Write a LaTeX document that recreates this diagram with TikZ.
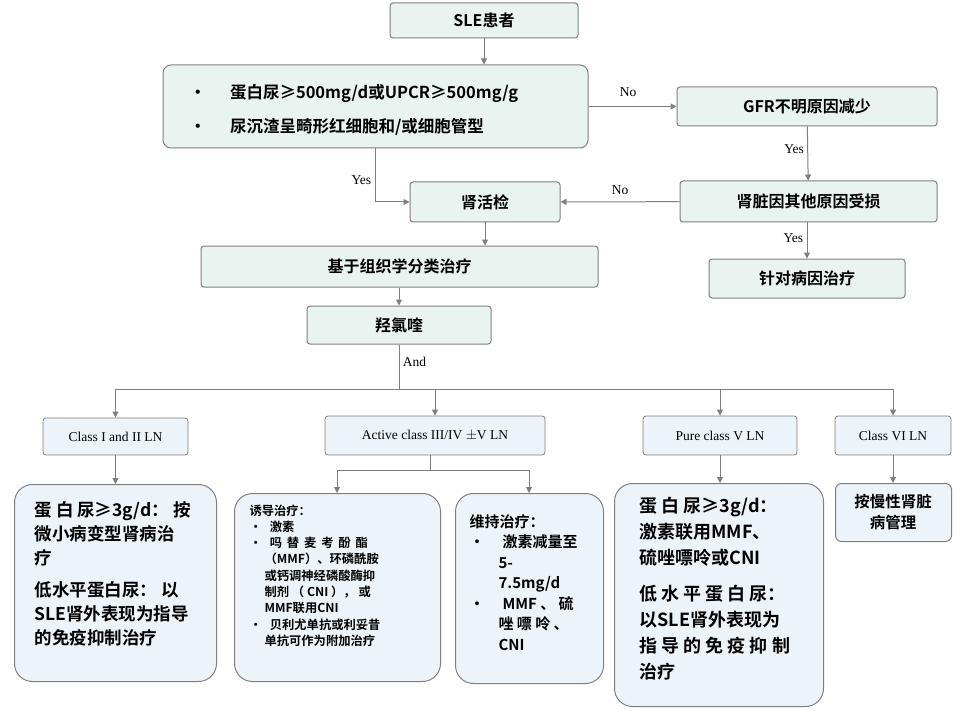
\documentclass[tikz,border=0pt]{standalone}
\usepackage{fontspec}
\setmainfont{Noto Sans CJK SC}[BoldFont={Noto Sans CJK SC Bold}]
\newfontfamily\serifen{Liberation Serif}
\usetikzlibrary{arrows.meta}
\definecolor{topfill}{HTML}{E9F3EF}
\definecolor{botfill}{HTML}{EDF4F9}
\definecolor{edge}{HTML}{7F7F7F}
\tikzset{
 tb/.style={draw=edge, line width=1pt, fill=topfill, rounded corners=3pt, font=\bfseries\fontsize{16}{19}\selectfont, inner sep=2pt},
 cb/.style={draw=edge, line width=0.8pt, fill=botfill, rounded corners=3pt, font=\serifen\fontsize{13.5}{15}\selectfont},
 bb/.style={draw=edge, line width=1pt, fill=botfill, rounded corners=18pt, align=left, anchor=north west, inner sep=0pt},
 arr/.style={draw=edge, line width=1pt, -{Triangle[length=6pt,width=6pt]}},
 ln/.style={draw=edge, line width=1pt},
 lab/.style={font=\serifen\fontsize{13.5}{15}\selectfont}
}
\begin{document}
\begin{tikzpicture}[x=1pt,y=-1pt]
\useasboundingbox (0,0) rectangle (957,711);
\node[tb, minimum width=188, minimum height=35] (sle) at (484,20.5) {SLE患者};
\node[tb, minimum width=425, minimum height=83, rounded corners=8pt] (crit) at (375.5,106.5) {};
\node[font=\bfseries\fontsize{16.5}{19}\selectfont, anchor=west] at (186,93) {•\hspace{24pt}蛋白尿≥500mg/d或UPCR≥500mg/g};
\node[font=\bfseries\fontsize{16.5}{19}\selectfont, anchor=west] at (186,127) {•\hspace{24pt}尿沉渣呈畸形红细胞和/或细胞管型};
\node[tb, minimum width=260, minimum height=39] (gfr) at (807,106.5) {GFR不明原因减少};
\node[tb, minimum width=257, minimum height=41] (oth) at (808.5,201.5) {肾脏因其他原因受损};
\node[tb, minimum width=196, minimum height=39] (cause) at (807,278.5) {针对病因治疗};
\node[tb, minimum width=150, minimum height=40] (bx) at (485,202) {肾活检};
\node[tb, minimum width=397, minimum height=41] (hist) at (399.5,266.5) {基于组织学分类治疗};
\node[tb, minimum width=184, minimum height=38] (hcq) at (399,325) {羟氯喹};
\node[cb, minimum width=145, minimum height=37] (c1) at (115.5,436.5) {Class I and II LN};
\node[cb, minimum width=220, minimum height=39] (c3) at (435,435.5) {Active class III/IV $\pm$V LN};
\node[cb, minimum width=154, minimum height=39] (c5) at (720,435.5) {Pure class V LN};
\node[cb, minimum width=116, minimum height=39] (c6) at (893,435.5) {Class VI LN};
% bottom boxes
\node[bb, minimum width=202, minimum height=197] (b1) at (14,484) {};
\node[anchor=north west, align=left, font=\bfseries\fontsize{17.5}{24}\selectfont] at (31,498) {蛋 白 尿≥3g/d： 按\\微小病变型肾病治\\疗\\[8pt]低水平蛋白尿： 以\\SLE肾外表现为指导\\的免疫抑制治疗};
\node[bb, minimum width=206, minimum height=188] (b2) at (234,493) {};
\node[anchor=north west, align=left, font=\bfseries\fontsize{12.3}{16.3}\selectfont] at (246,501) {诱导治疗：\\•\hspace{8pt}激素\\•\hspace{8pt}吗\,\ 替\,\ 麦\,\ 考\,\ 酚\,\ 酯\\\hspace{15pt}（MMF）、环磷酰胺\\\hspace{15pt}或钙调神经磷酸酶抑\\\hspace{15pt}制剂 （ CNI ）， 或\\\hspace{15pt}MMF联用CNI\\•\hspace{8pt}贝利尤单抗或利妥昔\\\hspace{15pt}单抗可作为附加治疗};
\node[bb, minimum width=148, minimum height=190] (b3) at (455,493) {};
\node[anchor=north west, align=left, font=\bfseries\fontsize{15}{20.5}\selectfont] at (466,511) {维持治疗：\\•\hspace{18pt}激素减量至\\\hspace{29pt}5-\\\hspace{29pt}7.5mg/d\\•\hspace{18pt}MMF 、 硫\\\hspace{29pt}唑 嘌 呤 、\\\hspace{29pt}CNI};
\node[bb, minimum width=209, minimum height=223] (b4) at (614,483) {};
\node[anchor=north west, align=left, font=\bfseries\fontsize{18}{26}\selectfont] at (636,494) {蛋 白 尿≥3g/d：\\激素联用MMF、\\硫唑嘌呤或CNI\\[10pt]低 水 平 蛋 白 尿：\\以SLE肾外表现为\\指 导 的 免 疫 抑 制\\治疗};
\node[bb, minimum width=116, minimum height=58, rounded corners=6pt] (b5) at (835,483) {};
\node[align=center, font=\bfseries\fontsize{15.5}{21}\selectfont] at (893,512) {按慢性肾脏\\病管理};
% connectors
\draw[arr] (sle) -- (sle |- crit.north);
\draw[arr] (crit.east |- gfr) -- node[lab, above, pos=0.45, yshift=6pt] {No} (gfr);
\draw[arr] (gfr) -- node[lab, left, yshift=4pt] {Yes} (oth);
\draw[arr] (oth) -- node[lab, above, yshift=3pt] {No} (bx);
\draw[arr] (oth.south -| cause) -- node[lab, left, yshift=2pt] {Yes} (cause);
\coordinate (cy) at (375,202);
\draw[arr] (crit.south -| cy) -- node[lab, left, pos=0.6] {Yes} (cy) -- (bx);
\draw[arr] (bx) -- (bx |- hist.north);
\draw[arr] (hist.south -| hcq) -- (hcq);
\coordinate (hb) at (399,389);
\draw[ln] (hcq) -- node[lab, right, pos=0.4] {And} (hb);
\draw[ln] (c1.north |- hb) -- (c6.north |- hb);
\foreach \c in {c1,c3,c5,c6} \draw[arr] (\c.north |- hb) -- (\c.north);
\draw[arr] (c1) -- (c1 |- b1.north);
\coordinate (sp) at (430,470);
\draw[ln] (c3.south -| sp) -- (sp);
\draw[arr] (sp) -| (337,493);
\draw[arr] (sp) -| (529,493);
\draw[arr] (c5) -- (c5 |- b4.north);
\draw[arr] (c6) -- (c6 |- b5.north);
\end{tikzpicture}
\end{document}
